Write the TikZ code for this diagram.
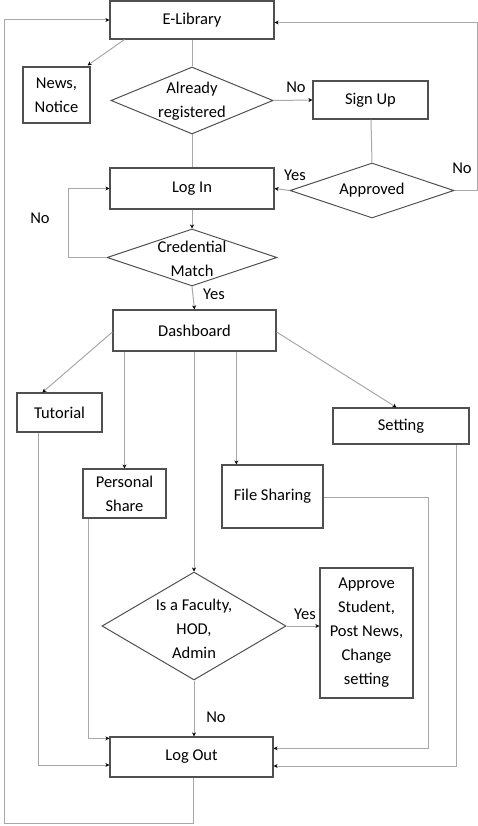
\documentclass[tikz,border=0pt]{standalone}
\usepackage{fontspec}
\setmainfont{Carlito}
\usetikzlibrary{shapes.geometric,arrows.meta,calc}
\definecolor{boxc}{HTML}{505050}
\definecolor{linec}{HTML}{A8A8A8}
\tikzset{
  box/.style={draw=boxc, line width=1.2pt, rectangle, inner sep=0pt, align=center, font=\fontsize{16.5}{24}\selectfont},
  dia/.style={draw=boxc, line width=1pt, diamond, inner sep=0pt},
  txt/.style={align=center, inner sep=0pt, font=\fontsize{16.5}{24}\selectfont},
  conn/.style={draw=linec, line width=1pt},
  arr/.style={conn, -{Stealth[length=4pt,width=4pt,color=black]}},
}
\begin{document}
\begin{tikzpicture}[x=1pt,y=-1pt]
\useasboundingbox (0,0) rectangle (478,826);
% boxes
\node[box, minimum width=164pt, minimum height=38pt] (elib) at (192,20) {E-Library};
\node[box, minimum width=67pt, minimum height=56pt] (news) at (56.5,95) {News,\\Notice};
\node[dia, minimum width=162pt, minimum height=67pt] (already) at (192,100.5) {};
\node[txt] (alreadyt) at (192,101) {Already\\registered};
\node[box, minimum width=115pt, minimum height=38pt] (signup) at (370.5,100) {Sign Up};
\node[dia, minimum width=164pt, minimum height=55pt] (approved) at (372,190.5) {};
\node[txt] (approvedt) at (372,190) {Approved};
\node[box, minimum width=164pt, minimum height=41pt] (login) at (192,188.5) {Log In};
\node[dia, minimum width=170pt, minimum height=57pt] (cred) at (192,257.5) {};
\node[txt] (credt) at (192,259) {Credential\\Match};
\node[box, minimum width=163pt, minimum height=41pt] (dash) at (194.5,330.5) {Dashboard};
\node[box, minimum width=85pt, minimum height=39pt] (tutorial) at (59.5,412.5) {Tutorial};
\node[box, minimum width=83pt, minimum height=49pt] (personal) at (124.5,493.5) {Personal\\Share};
\node[box, minimum width=101pt, minimum height=63pt] (file) at (272.5,496.5) {File Sharing};
\node[box, minimum width=136pt, minimum height=36pt] (setting) at (401,426) {Setting};
\node[dia, minimum width=184pt, minimum height=108pt] (faculty) at (194,626) {};
\node[txt] (facultyt) at (194,629) {Is a Faculty,\\HOD,\\Admin};
\node[box, minimum width=93pt, minimum height=130pt] (approve) at (366.5,633) {Approve\\Student,\\Post News,\\Change\\setting};
\node[box, minimum width=163pt, minimum height=40pt] (logout) at (191.5,757) {Log Out};
% labels
\node[txt] (lno1) at (296,87) {No};
\node[txt] (lyes1) at (295,175) {Yes};
\node[txt] (lno2) at (462,168) {No};
\node[txt] (lno3) at (40,218) {No};
\node[txt] (lyes2) at (214,294) {Yes};
\node[txt] (lyes3) at (305,614) {Yes};
\node[txt] (lno4) at (216,717) {No};
% coordinates
\coordinate (rloop) at (477,22.5);
\coordinate (lloop) at (4,823);
\coordinate (credloop) at (68,257.5);
\coordinate (fileloop) at (428,497);
\coordinate (fstop) at ($(file.north west)+(15,0)$);
% connectors
\draw[arr] ($(elib.south west)+(15,0)$) -- ($(news.north east)+(-3,-1)$);
\draw[conn] (elib.south) -- (already.north);
\draw[arr] (already.east) -- (signup.west);
\draw[conn] ($(signup.south)+(0.5,0)$) -- (approved.north);
\draw[arr] (approved.west) -- (login.east);
\draw[arr] (approved.east) -| (rloop) -- ($(elib.east)+(0,2.5)$);
\draw[conn] (already.south) -- (login.north);
\draw[arr] (login.south) -- (cred.north);
\draw[arr] (cred.west) -- (credloop) |- (login.west);
\draw[arr] (cred.south) -- (dash.north);
\draw[arr] ($(dash.west)+(0,1.5)$) -- ($(tutorial.north west)+(26,0)$);
\draw[arr] (personal.north |- dash.south) -- (personal.north);
\draw[arr] ($(dash.south)+(-0.5,0)$) -- (faculty.north);
\draw[arr] (fstop |- dash.south) -- (fstop);
\draw[arr] ($(dash.east)+(0,1.5)$) -- ($(setting.north west)+(64,0)$);
\draw[arr] (faculty.east) -- (faculty.east -| approve.west);
\draw[arr] (faculty.south) -- (logout.north -| faculty.south);
\draw[arr] ($(personal.south west)+(6,0)$) |- ($(logout.north west)+(0,2)$);
\draw[arr] ($(tutorial.south west)+(22,0)$) |- ($(logout.west)+(0,8)$);
\draw[arr] (file.east |- fileloop) -- (fileloop) |- ($(logout.north east)+(0,12)$);
\draw[arr] ($(setting.south east)+(-13,0)$) |- ($(logout.east)+(0,9)$);
\draw[arr] ($(logout.south)+(1.5,0)$) |- (lloop) |- (elib.west);
\end{tikzpicture}
\end{document}
